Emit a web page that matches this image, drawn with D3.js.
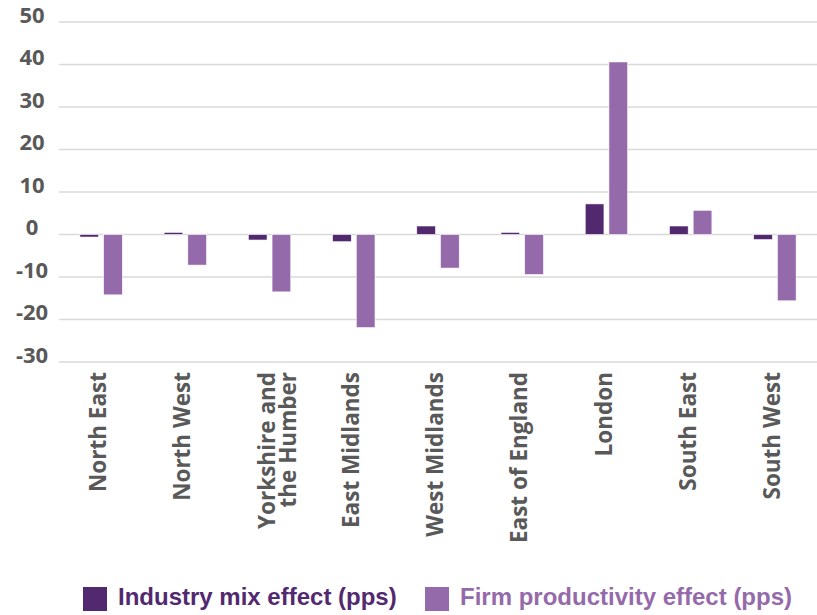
<!DOCTYPE html>
<html>
<head>
<meta charset="utf-8">
<script src="https://cdn.jsdelivr.net/npm/d3@7"></script>
<style>
  html, body { margin: 0; padding: 0; background: #fff; }
  svg { display: block; }
</style>
</head>
<body>
<svg id="chart" width="817" height="615"></svg>
<script>
const categories = [
  ["North East"],
  ["North West"],
  ["Yorkshire and", "the Humber"],
  ["East Midlands"],
  ["West Midlands"],
  ["East of England"],
  ["London"],
  ["South East"],
  ["South West"]
];
const seriesNames = ["Industry mix effect (pps)", "Firm productivity effect (pps)"];
const industryMix = [-0.6, 0.5, -1.3, -1.7, 2.0, 0.5, 7.2, 2.0, -1.2];
const firmProductivity = [-14.2, -7.2, -13.5, -21.9, -7.9, -9.4, 40.6, 5.7, -15.6];
const yTicks = [50, 40, 30, 20, 10, 0, -10, -20, -30];
const colors = ["#52296f", "#956aaa"];

const svg = d3.select("#chart");
const catKeys = categories.map(c => c.join(" "));
const seriesData = [industryMix, firmProductivity];

const x = d3.scaleBand().domain(catKeys).range([59, 817]).padding(0);
const y = d3.scaleLinear().domain([-30, 50]).range([362, 22]);

const bw = x.bandwidth();
const inner = d3.scaleBand().domain([0, 1])
  .range([bw / 2 - bw * 0.252, bw / 2 + bw * 0.252])
  .paddingInner(0.21);

// gridlines
svg.append("g").selectAll("line").data(yTicks).join("line")
  .attr("x1", 59).attr("x2", 817)
  .attr("y1", d => y(d)).attr("y2", d => y(d))
  .attr("stroke", "#d9d9d9").attr("stroke-width", 1.4);

// y tick labels
svg.append("g").selectAll("text").data(yTicks).join("text")
  .attr("x", 32).attr("y", d => y(d) - 5)
  .attr("text-anchor", "middle")
  .attr("dominant-baseline", "middle")
  .attr("font-family", "'Open Sans', sans-serif")
  .attr("font-weight", "bold")
  .attr("font-size", 22)
  .attr("fill", "#595959")
  .text(d => d);

// bars
seriesData.forEach((vals, si) => {
  svg.append("g").selectAll("rect").data(vals).join("rect")
    .attr("x", (d, i) => x(catKeys[i]) + inner(si))
    .attr("width", inner.bandwidth())
    .attr("y", d => y(Math.max(0, d)))
    .attr("height", d => Math.abs(y(d) - y(0)))
    .attr("fill", colors[si])
    .attr("stroke", "#ffffff")
    .attr("stroke-width", 0.6);
});

// category labels
const labG = svg.append("g");
categories.forEach((lines, i) => {
  const cx = x(catKeys[i]) + bw / 2 - 3;
  lines.forEach((ln, li) => {
    labG.append("text")
      .attr("transform", `translate(${cx + li * 21},372) rotate(-90)`)
      .attr("text-anchor", "end")
      .attr("dy", "0.36em")
      .attr("font-family", "'Open Sans', sans-serif")
      .attr("font-weight", "bold")
      .attr("font-size", 22.5)
      .attr("fill", "#595959")
      .text(ln);
  });
});

// legend
const legendX = [83, 425];
const leg = svg.append("g");
seriesNames.forEach((name, i) => {
  leg.append("rect")
    .attr("x", legendX[i]).attr("y", 587)
    .attr("width", 24).attr("height", 24)
    .attr("fill", colors[i]);
  leg.append("text")
    .attr("x", legendX[i] + 35).attr("y", 599)
    .attr("dominant-baseline", "middle")
    .attr("font-family", "'Liberation Sans Narrow', 'Arial Narrow', sans-serif")
    .attr("font-weight", "bold")
    .attr("font-size", 24)
    .attr("fill", colors[i])
    .text(name);
});
</script>
</body>
</html>
